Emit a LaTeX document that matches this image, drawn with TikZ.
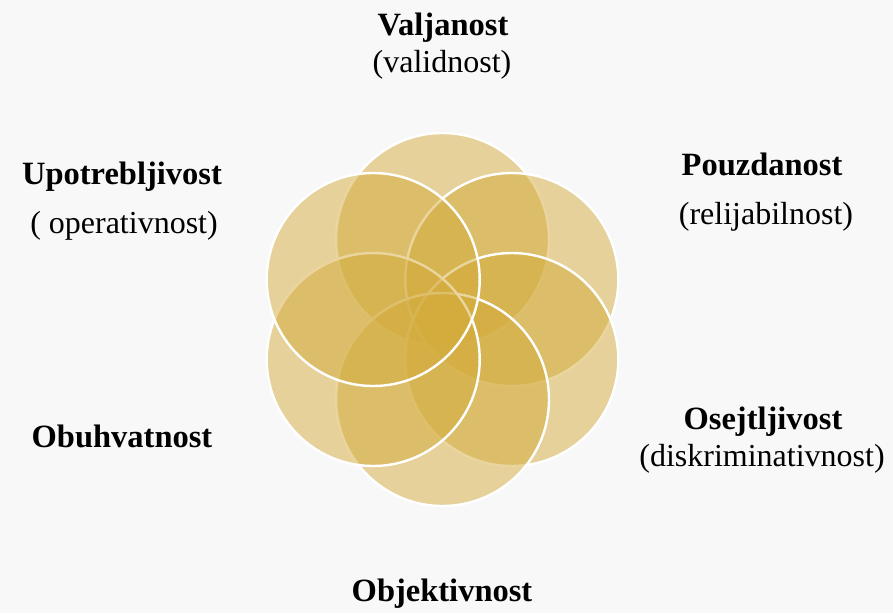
\documentclass[tikz,border=0pt]{standalone}
\usepackage{fontspec}
\setmainfont{Liberation Serif}
\definecolor{gold}{RGB}{212,172,60}
\definecolor{bgcol}{RGB}{248,248,248}
\begin{document}
\begin{tikzpicture}[x=1pt,y=-1pt,
  petal/.style={circle, minimum size=213pt, inner sep=0pt, fill=gold, fill opacity=0.5, draw=white, draw opacity=1, line width=2.4pt},
  head/.style={font=\fontsize{32.5}{38}\selectfont\bfseries, anchor=base, inner sep=0pt, text=black},
  sub/.style={font=\fontsize{32}{38}\selectfont, anchor=base, inner sep=0pt, text=black}]
\fill[bgcol] (0,0) rectangle (893,613);
\useasboundingbox (0,0) rectangle (893,613);
% petals (drawn clockwise from the top)
\node[petal] (pt) at (442.5,239.5) {};
\node[petal] (pur) at (511.8,279.5) {};
\node[petal] (plr) at (511.8,359.5) {};
\node[petal] (pb) at (442.5,399.5) {};
\node[petal] (pll) at (373.2,359.5) {};
\node[petal] (pul) at (373.2,279.5) {};
% labels
\node[head] (valj) at (443,35) {Valjanost};
\node[sub] (valid) at (442,72) {(validnost)};
\node[head] (pouz) at (762,175) {Pouzdanost};
\node[sub] (relij) at (766,224) {(relijabilnost)};
\node[head] (upot) at (122,184) {Upotrebljivost};
\node[sub] (oper) at (124,233) {( operativnost)};
\node[head] (osej) at (763,429) {Osejtljivost};
\node[sub] (diskr) at (762,466) {(diskriminativnost)};
\node[head] (obuh) at (122,447) {Obuhvatnost};
\node[head] (objek) at (442,601) {Objektivnost};
\end{tikzpicture}
\end{document}
